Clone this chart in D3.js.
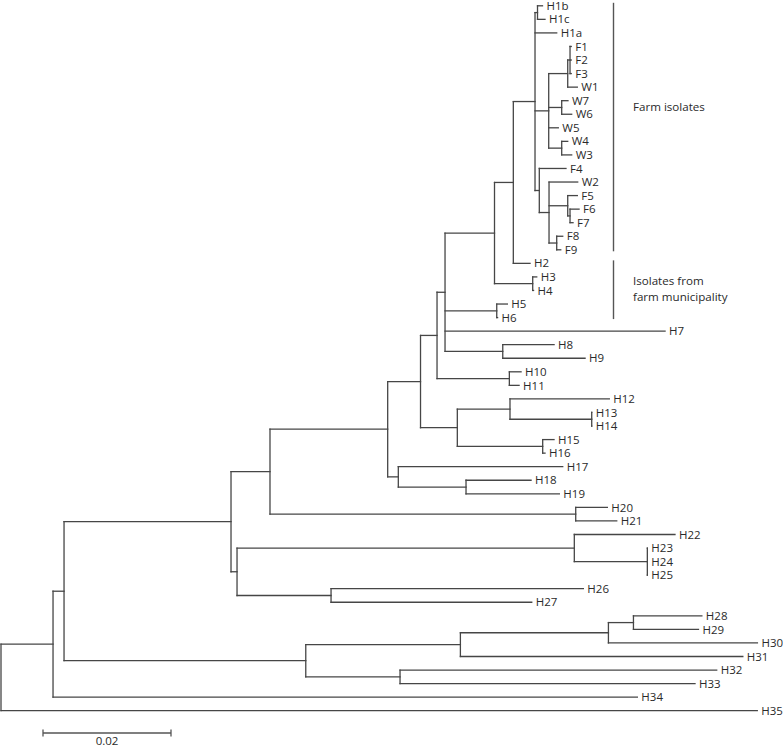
<!DOCTYPE html>
<html>
<head>
<meta charset="utf-8">
<script src="https://cdn.jsdelivr.net/npm/d3@7"></script>
<style>
  html, body { margin: 0; padding: 0; background: #fff; }
  svg { display: block; }
  text { font-family: "Open Sans", "DejaVu Sans", sans-serif; fill: #2a2a2a; }
</style>
</head>
<body>
<svg id="chart" width="783" height="747"></svg>
<script>
// ---------- DATA ----------
// Each row: [node, parent, branch length (substitutions/site)]; sibling order = top-to-bottom order.
const branches = [
  ["root", "", 0],
  ["n1", "root", 0.00813],
  ["n2", "n1", 0.00172],
  ["n3", "n2", 0.02609],
  ["n6", "n3", 0.00609],
  ["n7", "n6", 0.01839],
  ["n9", "n7", 0.00513],
  ["n11", "n9", 0.00258],
  ["n12", "n11", 0.00125],
  ["n13", "n12", 0.00773],
  ["n14", "n13", 0.00294],
  ["n15", "n14", 0.00339],
  ["nH1bc", "n15", 0.00039],
  ["H1b", "nH1bc", 0.00078],
  ["H1c", "nH1bc", 0.00117],
  ["H1a", "n15", 0.00339],
  ["nA", "n15", 0.00214],
  ["nC", "nA", 0.00297],
  ["nF123", "nC", 0.00036],
  ["F1", "nF123", 0.00019],
  ["F2", "nF123", 0.00019],
  ["F3", "nF123", 0.00019],
  ["W1", "nC", 0.00150],
  ["nW76", "nA", 0.00203],
  ["W7", "nW76", 0.00098],
  ["W6", "nW76", 0.00156],
  ["W5", "nA", 0.00150],
  ["nW43", "nA", 0.00203],
  ["W4", "nW43", 0.00094],
  ["W3", "nW43", 0.00156],
  ["nB", "n15", 0.00067],
  ["F4", "nB", 0.00417],
  ["nD", "nB", 0.00152],
  ["W2", "nD", 0.00448],
  ["nE", "nD", 0.00292],
  ["F5", "nE", 0.00150],
  ["nF67", "nE", 0.00036],
  ["F6", "nF67", 0.00141],
  ["F7", "nF67", 0.00047],
  ["nF89", "nD", 0.00120],
  ["F8", "nF89", 0.00094],
  ["F9", "nF89", 0.00063],
  ["H2", "n14", 0.00261],
  ["nH34", "n13", 0.00597],
  ["H3", "nH34", 0.00063],
  ["H4", "nH34", 0.00013],
  ["nH56", "n12", 0.00808],
  ["H5", "nH56", 0.00166],
  ["H6", "nH56", 0.00013],
  ["H7", "n12", 0.03438],
  ["nH89", "n12", 0.00902],
  ["H8", "nH89", 0.00802],
  ["H9", "nH89", 0.01286],
  ["nH1011", "n11", 0.01130],
  ["H10", "nH1011", 0.00183],
  ["H11", "nH1011", 0.00152],
  ["n10", "n9", 0.00575],
  ["nG", "n10", 0.00823],
  ["H12", "nG", 0.01552],
  ["nH1314", "nG", 0.01277],
  ["H13", "nH1314", 0],
  ["H14", "nH1314", 0],
  ["nH1516", "n10", 0.01334],
  ["H15", "nH1516", 0.00177],
  ["H16", "nH1516", 0.00036],
  ["n8", "n7", 0.00166],
  ["H17", "n8", 0.02569],
  ["nH1819", "n8", 0.01058],
  ["H18", "nH1819", 0.01016],
  ["H19", "nH1819", 0.01458],
  ["nH2021", "n6", 0.04777],
  ["H20", "nH2021", 0.00494],
  ["H21", "nH2021", 0.00641],
  ["n4", "n3", 0.00094],
  ["nH2225", "n4", 0.05270],
  ["H22", "nH2225", 0.01573],
  ["nH2325", "nH2225", 0.01141],
  ["H23", "nH2325", 0],
  ["H24", "nH2325", 0],
  ["H25", "nH2325", 0],
  ["nH2627", "n4", 0.01469],
  ["H26", "nH2627", 0.03942],
  ["H27", "nH2627", 0.03136],
  ["n5", "n2", 0.03777],
  ["nH", "n5", 0.02416],
  ["nJ", "nH", 0.02313],
  ["nH2829", "nJ", 0.00391],
  ["H28", "nH2829", 0.01069],
  ["H29", "nH2829", 0.01016],
  ["H30", "nJ", 0.02328],
  ["H31", "nH", 0.04413],
  ["nI", "n5", 0.01473],
  ["H32", "nI", 0.04948],
  ["H33", "nI", 0.04609],
  ["H34", "n1", 0.09130],
  ["H35", "root", 0.11817]
];

// Clade annotation bars: label lines, first leaf, last leaf
const cladeNames = [["Farm isolates"], ["Isolates from", "farm municipality"]];
const cladeFirst = ["H1b", "H2"];
const cladeLast = ["F9", "H6"];

const scaleBarValue = 0.02;
const scaleBarLabel = "0.02";

// ---------- LAYOUT ----------
const svg = d3.select("#chart");

const root = d3.stratify()
  .id(d => d[0])
  .parentId(d => d[1] === "" ? null : d[1])(branches);

// cumulative distance from root
root.eachBefore(n => {
  n.dist = n.parent ? n.parent.dist + n.data[2] : 0;
});

const leaves = root.leaves();
const x = d3.scaleLinear().domain([0, 0.02]).range([1, 129]);
const y = d3.scaleLinear().domain([0, leaves.length - 1]).range([5.8, 710.7]);

leaves.forEach((l, i) => { l.yPos = y(i); });
root.eachAfter(n => {
  if (n.children) {
    n.yPos = (n.children[0].yPos + n.children[n.children.length - 1].yPos) / 2;
  }
});

const g = svg.append("g");
const lineColor = "#464646";
const lw = 1.3;

// horizontal branches
g.selectAll("line.h")
  .data(root.descendants().filter(n => n.parent))
  .join("line")
  .attr("class", "h")
  .attr("x1", n => x(n.parent.dist))
  .attr("x2", n => x(n.dist))
  .attr("y1", n => n.yPos)
  .attr("y2", n => n.yPos)
  .attr("stroke", lineColor)
  .attr("stroke-width", lw)
  .attr("stroke-linecap", "square");

// vertical connectors
g.selectAll("line.v")
  .data(root.descendants().filter(n => n.children))
  .join("line")
  .attr("class", "v")
  .attr("x1", n => x(n.dist))
  .attr("x2", n => x(n.dist))
  .attr("y1", n => n.children[0].yPos)
  .attr("y2", n => n.children[n.children.length - 1].yPos)
  .attr("stroke", lineColor)
  .attr("stroke-width", lw)
  .attr("stroke-linecap", "square");

// leaf labels
g.selectAll("text.leaf")
  .data(leaves)
  .join("text")
  .attr("class", "leaf")
  .attr("x", n => x(n.dist) + 4)
  .attr("y", n => n.yPos)
  .attr("dy", "0.36em")
  .attr("font-size", 11.5)
  .text(n => n.id);

// clade bars + labels
const leafById = new Map(leaves.map(l => [l.id, l]));
const barX = 613.5;
const textYs = [[111], [285, 301]];
cladeNames.forEach((lines, i) => {
  const y1 = leafById.get(cladeFirst[i]).yPos - 3;
  const y2 = leafById.get(cladeLast[i]).yPos + 1.5;
  svg.append("line")
    .attr("x1", barX).attr("x2", barX)
    .attr("y1", y1).attr("y2", y2)
    .attr("stroke", "#555").attr("stroke-width", 1.4);
  lines.forEach((t, j) => {
    svg.append("text")
      .attr("x", 633)
      .attr("y", textYs[i][j])
      .attr("font-size", 11.6)
      .text(t);
  });
});

// scale bar
const sbX0 = 43;
const sbW = x(scaleBarValue) - x(0);
const sbY = 733;
const sb = svg.append("g").attr("stroke", "#555").attr("stroke-width", 1.3);
sb.append("line").attr("x1", sbX0).attr("x2", sbX0 + sbW).attr("y1", sbY).attr("y2", sbY);
sb.append("line").attr("x1", sbX0).attr("x2", sbX0).attr("y1", sbY - 3.5).attr("y2", sbY + 3.5);
sb.append("line").attr("x1", sbX0 + sbW).attr("x2", sbX0 + sbW).attr("y1", sbY - 3.5).attr("y2", sbY + 3.5);
svg.append("text")
  .attr("x", sbX0 + sbW / 2)
  .attr("y", 745)
  .attr("text-anchor", "middle")
  .attr("font-size", 11.5)
  .text(scaleBarLabel);
</script>
</body>
</html>
